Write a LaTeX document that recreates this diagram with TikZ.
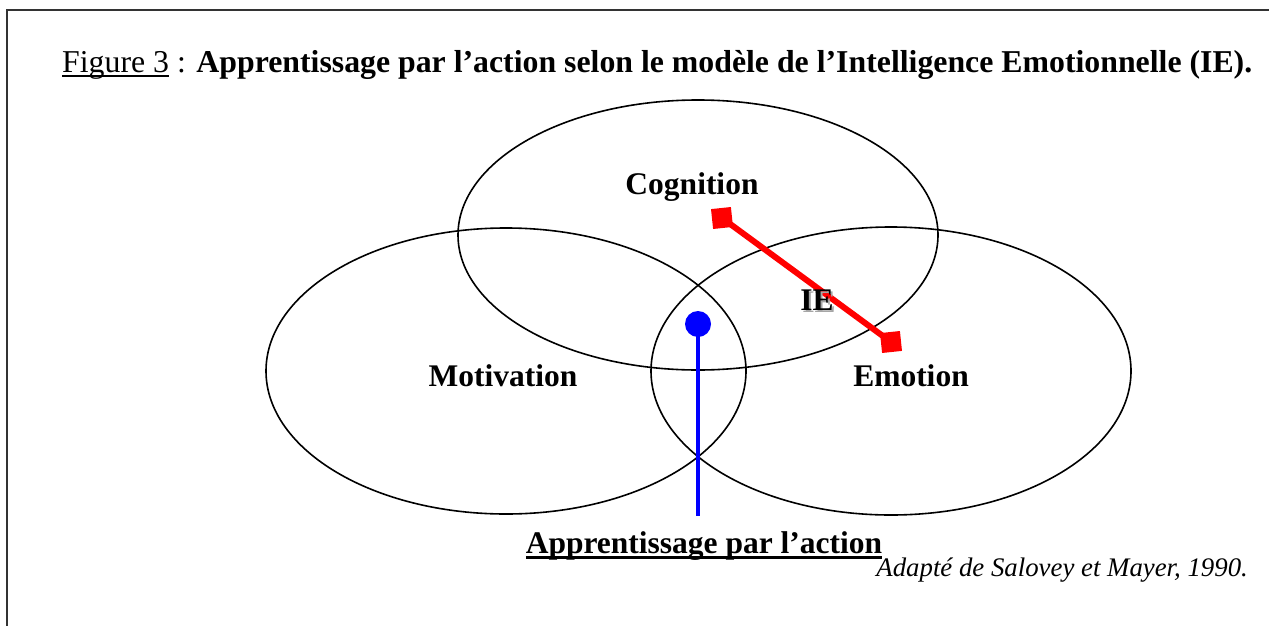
\documentclass[tikz,border=0pt]{standalone}
\usepackage{fontspec}
\setmainfont{Liberation Serif}
\newcommand\ulthick[3]{\leavevmode\setbox0\hbox{#3}\dp0=0pt\vtop{\box0\kern#1\hrule height #2}}
\begin{document}
\begin{tikzpicture}[x=1pt,y=-1pt,
  circ/.style={draw=black,line width=1.6pt},
  lab/.style={font=\fontsize{31.5}{36}\selectfont\bfseries,inner sep=0pt},
  redsq/.style={fill=red,minimum size=20pt,inner sep=0pt,rotate=6},
]
\useasboundingbox (0,0) rectangle (1269,627);
\draw[line width=1.2pt,black!80] (1269,10) -- (7,10) -- (7,626);
% title
\node[inner sep=0pt,anchor=base west,font=\fontsize{31.8}{36}\selectfont] (title) at (62,72)
  {\ulthick{3pt}{1.8pt}{Figure 3} : \textbf{Apprentissage par l’action selon le modèle de l’Intelligence Emotionnelle (IE).}};
% ellipses
\draw[circ] (698,235) ellipse [x radius=240, y radius=135];
\draw[circ] (506,371) ellipse [x radius=240, y radius=143];
\draw[circ] (891,371) ellipse [x radius=240, y radius=144];
% labels
\node[lab,anchor=base] (cog) at (692,194) {Cognition};
\node[lab,anchor=base] (mot) at (503,386) {Motivation};
\node[lab,anchor=base] (emo) at (911,386) {Emotion};
% red line
\node[redsq] (r1) at (722,218) {};
\node[redsq] (r2) at (891,342) {};
\draw[red,line width=6pt] (r1.center) -- (r2.center);
% IE with shadow
\node[lab,anchor=base,text=black!35] (ieS) at (819,312) {IE};
\node[lab,anchor=base] (ie) at (817,310) {IE};
% blue
\node[circle,fill=blue,minimum size=26pt,inner sep=0pt] (bc) at (698,324) {};
\coordinate (bend) at (698,516);
\draw[blue,line width=4.5pt] (bc.center) -- (bend);
% bottom labels
\node[lab,anchor=base] (app) at (704,553) {\ulthick{2.5pt}{3.2pt}{Apprentissage par l’action}};
\node[inner sep=0pt,anchor=base east,font=\fontsize{26.8}{30}\selectfont\itshape] (src) at (1248,576) {Adapté de Salovey et Mayer, 1990.};
\end{tikzpicture}
\end{document}
